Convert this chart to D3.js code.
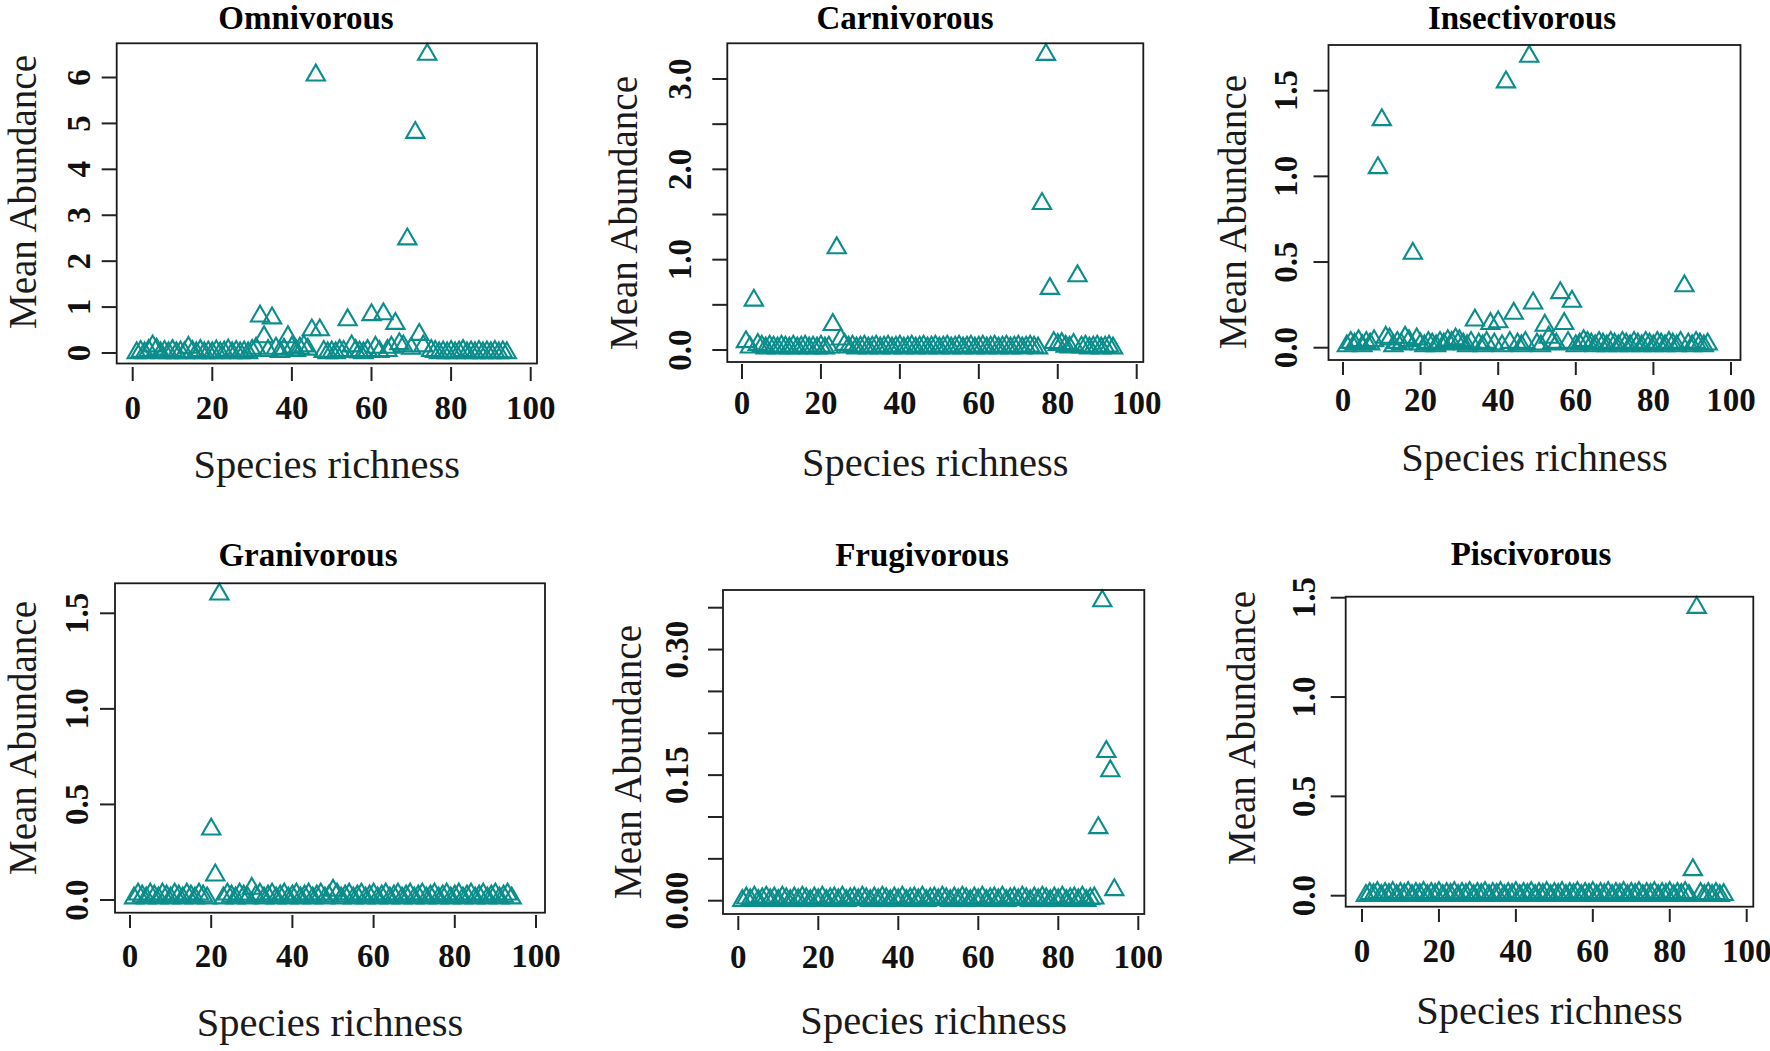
<!DOCTYPE html>
<html><head><meta charset="utf-8">
<script src="https://cdn.jsdelivr.net/npm/d3@7"></script>
<style>body{margin:0;background:#fff} svg{display:block;background:#fff}</style>
</head><body>
<svg id="chart" width="1770" height="1051"></svg>
<script>
// ---------- DATA ----------
const richness = [1,2,3,4,5,6,7,8,9,10,11,12,13,14,15,16,17,18,19,20,21,22,23,24,25,26,27,28,29,30,31,32,33,34,35,36,37,38,39,40,41,42,43,44,45,46,47,48,49,50,51,52,53,54,55,56,57,58,59,60,61,62,63,64,65,66,67,68,69,70,71,72,73,74,75,76,77,78,79,80,81,82,83,84,85,86,87,88,89,90,91,92,93,94];

const omnivorous = [0,0.03,0,0.05,0.15,0.08,0,0.03,0,0.05,
  0,0.02,0,0.12,0.03,0,0.05,0,0.02,0,
  0.04,0,0.02,0.06,0,0.03,0,0.02,0,0.05,
  0.1,0.8,0.35,0.05,0.76,0.1,0.03,0.08,0.35,0.12,
  0.05,0.1,0.15,0.08,0.5,6.05,0.5,0.03,0,0.02,
  0,0.05,0.03,0.72,0.15,0.05,0.02,0,0.05,0.83,
  0.12,0.03,0.85,0.05,0.12,0.64,0.2,0.15,2.48,0.1,
  4.8,0.4,0.15,6.5,0.05,0.03,0,0.02,0,0.03,
  0,0.02,0.05,0,0.02,0,0.03,0,0.02,0,
  0.03,0,0.02,0];

const carnivorous = [0.09,0.03,0.55,0.06,0.04,0.02,0.04,0.03,0.02,0.04,
  0.03,0.02,0.04,0.02,0.03,0.04,0.02,0.03,0.02,0.04,
  0.02,0.03,0.28,1.13,0.12,0.06,0.03,0.04,0.02,0.03,
  0.04,0.02,0.03,0.04,0.02,0.03,0.04,0.02,0.03,0.04,
  0.02,0.03,0.04,0.02,0.03,0.04,0.02,0.03,0.04,0.02,
  0.03,0.04,0.02,0.03,0.04,0.02,0.03,0.04,0.02,0.03,
  0.04,0.02,0.03,0.04,0.02,0.03,0.04,0.02,0.03,0.04,
  0.02,0.03,0.04,0.03,0.02,1.62,3.27,0.68,0.08,0.06,
  0.07,0.04,0.03,0.06,0.82,0.03,0.04,0.02,0.03,0.04,
  0.02,0.03,0.04,0.02];

const insectivorous = [0.01,0.03,0.02,0.04,0.01,0.03,0.02,0.04,1.05,1.33,
  0.06,0.05,0.01,0.03,0.02,0.06,0.04,0.55,0.05,0.02,
  0.01,0.03,0.02,0.01,0.03,0.02,0.04,0.03,0.05,0.04,
  0.02,0.01,0.03,0.16,0.02,0.01,0.03,0.14,0.02,0.15,
  0.01,1.55,0.03,0.2,0.02,0.01,0.03,1.70,0.26,0.02,
  0.01,0.13,0.06,0.03,0.02,0.32,0.14,0.03,0.27,0.01,
  0.02,0.04,0.03,0.02,0.01,0.03,0.02,0.01,0.03,0.02,
  0.01,0.03,0.02,0.01,0.03,0.02,0.01,0.03,0.02,0.01,
  0.03,0.02,0.01,0.03,0.02,0.01,0.03,0.36,0.02,0.01,
  0.03,0.02,0.01,0.02];

const granivorous = [0.01,0.03,0.02,0.01,0.03,0.02,0.01,0.03,0.02,0.01,
  0.03,0.02,0.01,0.03,0.02,0.01,0.03,0.02,0.01,0.37,
  0.13,1.6,0.01,0.03,0.02,0.01,0.03,0.02,0.01,0.06,
  0.02,0.03,0.01,0.02,0.03,0.01,0.02,0.03,0.01,0.02,
  0.03,0.01,0.02,0.03,0.01,0.02,0.03,0.01,0.02,0.05,
  0.03,0.01,0.02,0.03,0.01,0.02,0.03,0.01,0.02,0.03,
  0.01,0.02,0.03,0.01,0.02,0.03,0.01,0.02,0.03,0.01,
  0.02,0.03,0.01,0.02,0.03,0.01,0.02,0.03,0.01,0.02,
  0.03,0.01,0.02,0.03,0.01,0.02,0.03,0.01,0.02,0.03,
  0.01,0.02,0.03,0.01];

const frugivorous = [0,0.003,0.001,0.004,0,0.002,0.004,0.001,0.003,0,
  0.004,0.002,0,0.003,0.001,0.004,0.002,0,0.003,0.001,
  0.004,0,0.002,0.003,0.001,0.004,0,0.002,0.003,0.001,
  0.004,0.002,0,0.003,0.001,0.004,0.002,0,0.003,0.001,
  0.004,0,0.002,0.003,0.001,0.004,0,0.002,0.003,0.001,
  0.004,0.002,0,0.003,0.001,0.004,0.002,0,0.003,0.001,
  0.004,0,0.002,0.003,0.001,0.004,0,0.002,0.003,0.001,
  0.004,0.002,0,0.003,0.001,0.004,0.002,0,0.003,0.001,
  0.004,0,0.002,0.003,0.001,0.004,0,0.002,0.003,0.087,
  0.358,0.178,0.155,0.013];

const piscivorous = [0,0.01,0.005,0.015,0,0.01,0.005,0.015,0,0.01,
  0.005,0.015,0,0.01,0.005,0.015,0,0.01,0.005,0.015,
  0,0.01,0.005,0.015,0,0.01,0.005,0.015,0,0.01,
  0.005,0.015,0,0.01,0.005,0.015,0,0.01,0.005,0.015,
  0,0.01,0.005,0.015,0,0.01,0.005,0.015,0,0.01,
  0.005,0.015,0,0.01,0.005,0.015,0,0.01,0.005,0.015,
  0,0.01,0.005,0.015,0,0.01,0.005,0.015,0,0.01,
  0.005,0.015,0,0.01,0.005,0.015,0,0.01,0.005,0.015,
  0,0.01,0.005,0.015,0,0.13,1.45,0.01,0,0.01,
  0,0.01,0,0.005];

const titles = ["Omnivorous","Carnivorous","Insectivorous","Granivorous","Frugivorous","Piscivorous"];
const xTicks = [0,20,40,60,80,100];
const yTicksOmni = [0,1,2,3,4,5,6];
const yLabelsOmni = [0,1,2,3,4,5,6];
const yTicksCarn = [0,0.5,1,1.5,2,2.5,3];
const yLabelsCarn = [0,1,2,3];
const yTicksHalf = [0,0.5,1,1.5];
const yLabelsHalf = [0,0.5,1,1.5];
const yTicksFrug = [0,0.05,0.1,0.15,0.2,0.25,0.3,0.35];
const yLabelsFrug = [0,0.15,0.3];
const xTitle = "Species richness";
const yTitle = "Mean Abundance";

// ---------- LAYOUT (pixel geometry of each panel) ----------
const layout = [
  {box:[116.7,43.3,537,363.5], x0:132.7, x100:530.7, yv:[0,6], yp:[353,77.5], ylabX:90, ytitleX:36, ytitleY:192, xtickY:[367,381], xlabY:419, xtitleY:478, titleX:306, titleY:29},
  {box:[727.3,43.3,1143.3,362], x0:742, x100:1136.7, yv:[0,3], yp:[350,79], ylabX:691, ytitleX:637, ytitleY:213, xtickY:[364,379], xlabY:414, xtitleY:476, titleX:905, titleY:29},
  {box:[1328.5,45,1740.5,360], x0:1343, x100:1731, yv:[0,1.5], yp:[347.7,90.7], ylabX:1297, ytitleX:1246, ytitleY:212, xtickY:[362,375], xlabY:411, xtitleY:471, titleX:1522, titleY:29},
  {box:[115,583.3,545,912.7], x0:130, x100:536, yv:[0,1.5], yp:[900,613.3], ylabX:88, ytitleX:36, ytitleY:738, xtickY:[915,928], xlabY:967, xtitleY:1036, titleX:308, titleY:566},
  {box:[723,590,1144.3,914], x0:738.3, x100:1138.3, yv:[0,0.35], yp:[900.7,607.7], ylabX:688, ytitleX:641, ytitleY:762, xtickY:[916,930], xlabY:968, xtitleY:1034, titleX:922, titleY:566},
  {box:[1345.7,596.7,1753.3,906.7], x0:1362, x100:1746.7, yv:[0,1.5], yp:[895.7,597.7], ylabX:1315, ytitleX:1255, ytitleY:728, xtickY:[909,922], xlabY:962, xtitleY:1024, titleX:1531, titleY:565}
];

const series = [omnivorous, carnivorous, insectivorous, granivorous, frugivorous, piscivorous];
const yTickSets = [yTicksOmni, yTicksCarn, yTicksHalf, yTicksHalf, yTicksFrug, yTicksHalf];
const yLabelSets = [yLabelsOmni, yLabelsCarn, yLabelsHalf, yLabelsHalf, yLabelsFrug, yLabelsHalf];
const yFormats = [d3.format("d"), d3.format(".1f"), d3.format(".1f"), d3.format(".1f"), d3.format(".2f"), d3.format(".1f")];

const svg = d3.select("#chart");
const FONT = "'Liberation Serif','Times New Roman',Times,serif";
const TEAL = "#0a8d8b";
const tri = d3.symbol().type(d3.symbolTriangle).size(145)();

layout.forEach((L, i) => {
  const g = svg.append("g");
  const [bl, bt, br, bb] = L.box;
  const x = d3.scaleLinear().domain([0, 100]).range([L.x0, L.x100]);
  const y = d3.scaleLinear().domain(L.yv).range(L.yp);
  const pts = richness.map((r, k) => ({x: r, y: series[i][k]}));

  // points
  g.append("g").selectAll("path").data(pts).join("path")
    .attr("d", tri)
    .attr("transform", d => `translate(${x(d.x)},${y(d.y)})`)
    .attr("fill", "none").attr("stroke", TEAL).attr("stroke-width", 2.1);

  // box
  g.append("rect").attr("x", bl).attr("y", bt).attr("width", br - bl).attr("height", bb - bt)
    .attr("fill", "none").attr("stroke", "#1a1a1a").attr("stroke-width", 1.8);

  // x axis ticks
  g.append("g").selectAll("line").data(xTicks).join("line")
    .attr("x1", d => x(d)).attr("x2", d => x(d))
    .attr("y1", L.xtickY[0]).attr("y2", L.xtickY[1])
    .attr("stroke", "#222").attr("stroke-width", 2);
  g.append("g").selectAll("text").data(xTicks).join("text")
    .attr("x", d => x(d)).attr("y", L.xlabY)
    .attr("text-anchor", "middle")
    .style("font-family", FONT).style("font-weight", "bold").style("font-size", "33px")
    .attr("fill", "#111")
    .text(d => d);

  // y axis ticks
  g.append("g").selectAll("line").data(yTickSets[i]).join("line")
    .attr("x1", bl - 15).attr("x2", bl)
    .attr("y1", d => y(d)).attr("y2", d => y(d))
    .attr("stroke", "#222").attr("stroke-width", 2);
  g.append("g").selectAll("text").data(yLabelSets[i]).join("text")
    .attr("transform", d => `translate(${L.ylabX},${y(d)}) rotate(-90)`)
    .attr("text-anchor", "middle")
    .style("font-family", FONT).style("font-weight", "bold").style("font-size", "33px")
    .attr("fill", "#111")
    .text(d => yFormats[i](d));

  // titles
  g.append("text").attr("x", L.titleX).attr("y", L.titleY)
    .attr("text-anchor", "middle")
    .style("font-family", FONT).style("font-weight", "bold").style("font-size", "33px")
    .attr("fill", "#000")
    .text(titles[i]);
  g.append("text").attr("x", (bl + br) / 2).attr("y", L.xtitleY)
    .attr("text-anchor", "middle")
    .style("font-family", FONT).style("font-size", "40.5px")
    .attr("fill", "#1a1a1a")
    .text(xTitle);
  g.append("text")
    .attr("transform", `translate(${L.ytitleX},${L.ytitleY}) rotate(-90)`)
    .attr("text-anchor", "middle")
    .style("font-family", FONT).style("font-size", "39px")
    .attr("fill", "#1a1a1a")
    .text(yTitle);
});
</script>
</body></html>
